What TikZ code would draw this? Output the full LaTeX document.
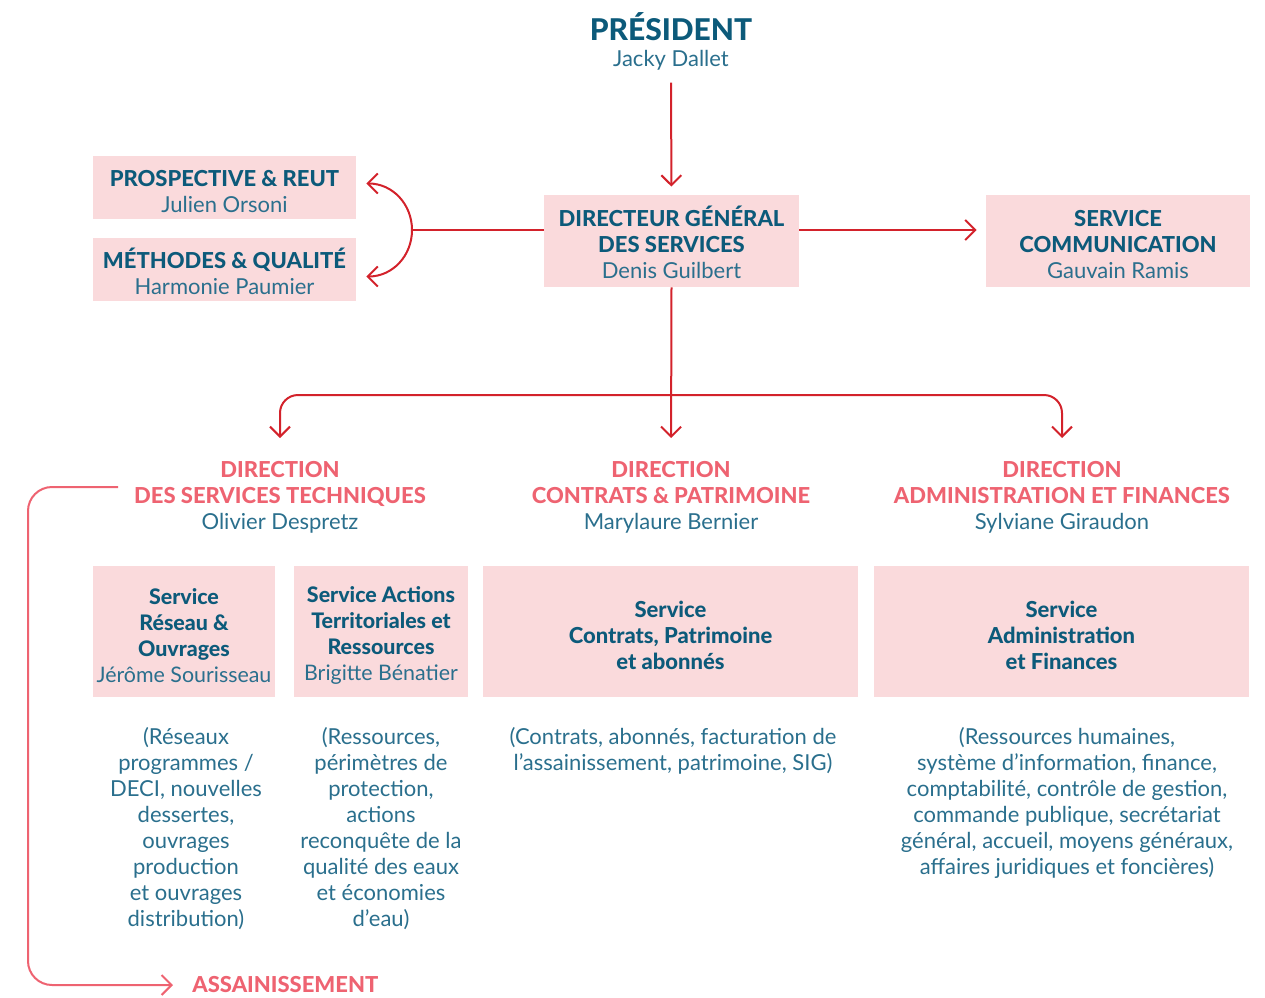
\documentclass[tikz,border=0pt]{standalone}
\usepackage{fontspec}
\setmainfont{Lato}[BoldFont={Lato Heavy}]
\usetikzlibrary{arrows.meta}

\definecolor{ink}{HTML}{0C5A7A}
\definecolor{inksoft}{HTML}{2A6F8D}
\definecolor{boxpink}{HTML}{FADADC}
\definecolor{linkred}{HTML}{D3222B}
\definecolor{coral}{HTML}{EE6371}

\newcommand{\pname}[1]{{\color{inksoft}#1}}
\newcommand{\boxtop}{\rule{0pt}{12pt}}

\tikzset{
  base/.style={inner sep=0pt, align=center, font=\fontsize{11}{13}\selectfont},
  box/.style={base, fill=boxpink, text=ink},
  txt/.style={base, text=inksoft},
  head/.style={base, text=coral},
  link/.style={draw=linkred, line width=1pt},
  coralline/.style={draw=coral, line width=1pt},
  >={Straight Barb[length=5pt,width=10pt]}
}

\begin{document}
\begin{tikzpicture}[x=0.5pt, y=-0.5pt]
    \path[use as bounding box] (0,0) rectangle (1265,997);

    % President
    \node[txt, anchor=north] (pres) at (671,12)
        {{\fontsize{15}{14}\selectfont\bfseries\color{ink}PRÉSIDENT}\\Jacky Dallet};

    % Direction generale
    \node[box, minimum width=127.5pt, minimum height=46pt] (dgs) at (671.5,241)
        {\boxtop\textbf{DIRECTEUR GÉNÉRAL}\\\textbf{DES SERVICES}\\\pname{Denis Guilbert}};
    \node[box, minimum width=132pt, minimum height=46pt] (com) at (1118,241)
        {\boxtop\textbf{SERVICE}\\\textbf{COMMUNICATION}\\\pname{Gauvain Ramis}};
    \node[box, minimum width=131.5pt, minimum height=31.5pt] (prosp) at (224.5,187.5)
        {\boxtop\textbf{PROSPECTIVE \& REUT}\\\pname{Julien Orsoni}};
    \node[box, minimum width=131.5pt, minimum height=31.5pt] (meth) at (224.5,269.5)
        {\boxtop\textbf{MÉTHODES \& QUALITÉ}\\\pname{Harmonie Paumier}};

    % Directions
    \node[head, anchor=north] (dst) at (280,461)
        {\textbf{DIRECTION}\\\textbf{DES SERVICES TECHNIQUES}\\\pname{Olivier Despretz}};
    \node[head, anchor=north] (dcp) at (671,461)
        {\textbf{DIRECTION}\\\textbf{CONTRATS \& PATRIMOINE}\\\pname{Marylaure Bernier}};
    \node[head, anchor=north] (daf) at (1062,461)
        {\textbf{DIRECTION}\\\textbf{ADMINISTRATION ET FINANCES}\\\pname{Sylviane Giraudon}};

    % Services
    \node[box, minimum width=91pt, minimum height=65.5pt, font=\fontsize{10.7}{13}\selectfont] (sro) at (184,631.5)
        {\boxtop\textbf{Service}\\\textbf{Réseau \&}\\\textbf{Ouvrages}\\\pname{Jérôme Sourisseau}};
    \node[box, minimum width=87pt, minimum height=65.5pt, font=\fontsize{10.7}{13}\selectfont] (sat) at (381,631.5)
        {\boxtop\textbf{Service Actions}\\\textbf{Territoriales et}\\\textbf{Ressources}\\\pname{Brigitte Bénatier}};
    \node[box, minimum width=187.5pt, minimum height=65.5pt] (scp) at (670.5,631.5)
        {\boxtop\textbf{Service}\\\textbf{Contrats, Patrimoine}\\\textbf{et abonnés}};
    \node[box, minimum width=187.5pt, minimum height=65.5pt] (saf) at (1061.5,631.5)
        {\boxtop\textbf{Service}\\\textbf{Administration}\\\textbf{et Finances}};

    % Missions
    \node[txt, anchor=north] (msro) at (186,727)
        {(Réseaux\\programmes /\\DECI, nouvelles\\dessertes,\\ouvrages\\production\\et ouvrages\\distribution)};
    \node[txt, anchor=north] (msat) at (381,727)
        {(Ressources,\\périmètres de\\protection,\\actions\\reconquête de la\\qualité des eaux\\et économies\\d’eau)};
    \node[txt, anchor=north] (mscp) at (673,727)
        {(Contrats, abonnés, facturation de\\l’assainissement, patrimoine, SIG)};
    \node[txt, anchor=north] (msaf) at (1067,727)
        {(Ressources humaines,\\système d’information, finance,\\comptabilité, contrôle de gestion,\\commande publique, secrétariat\\général, accueil, moyens généraux,\\affaires juridiques et foncières)};

    \node[head, anchor=west] (assain) at (192,985) {\textbf{ASSAINISSEMENT}};

    % Links
    \coordinate (fork1) at (412,230);
    \coordinate (fork2) at (671,395);
    \coordinate (dstend) at (118,487);

    \draw[link, ->, shorten <=6pt, shorten >=4pt] (pres) -- (dgs);
    \draw[link, ->, shorten >=4.5pt] ([yshift=5.5pt]dgs.east) -- ([yshift=5.5pt]com.west);
    \draw[link] ([yshift=5.5pt]dgs.west) -- (fork1);
    \draw[link, ->] (fork1) .. controls +(0,-26) and +(26,0) .. ([shift={(5pt,2pt)}]prosp.east);
    \draw[link, ->] (fork1) .. controls +(0,26) and +(26,0) .. ([shift={(5pt,-3.5pt)}]meth.east);
    \draw[link, ->, shorten >=11.5pt] (dgs.south) -- (dcp.north);
    \draw[link, <->, rounded corners=9pt, shorten <=11.5pt, shorten >=11.5pt]
        (dst.north) |- (fork2) -| (daf.north);
    \draw[coralline, ->, rounded corners=12pt]
        (dstend) -- (28,487) |- ([xshift=-9.5pt]assain.west);
\end{tikzpicture}
\end{document}
